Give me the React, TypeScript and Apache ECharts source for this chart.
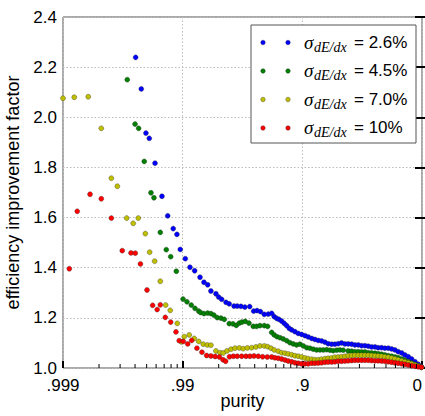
import React, { useEffect, useRef } from 'react';
import * as echarts from 'echarts';

// x values are log10(1 - purity); y values are the efficiency improvement factor
const xTickLabels: Record<string, string> = { '-3': '.999', '-2': '.99', '-1': '.9', '0': '0' };
const minorDecades = [-3, -2, -1];
const minorMultipliers = [2, 3, 4, 5, 6, 7, 8, 9];

const seriesNames = ['2.6%', '4.5%', '7.0%', '10%'];
const seriesColors = ['#0000ff', '#008000', '#bfbf00', '#ff0000'];

const blue: [number, number][] = [
  [-2.393, 2.239], [-2.346, 2.113], [-2.307, 1.937], [-2.279, 1.916], [-2.231, 1.817],
  [-2.173, 1.685], [-2.125, 1.607], [-2.079, 1.556], [-2.048, 1.533], [-2.020, 1.473],
  [-1.978, 1.436], [-1.939, 1.402], [-1.900, 1.388], [-1.855, 1.362], [-1.822, 1.342],
  [-1.791, 1.332], [-1.764, 1.307], [-1.722, 1.296], [-1.699, 1.283], [-1.674, 1.274],
  [-1.638, 1.262], [-1.611, 1.256], [-1.571, 1.247], [-1.544, 1.247], [-1.513, 1.246],
  [-1.480, 1.243], [-1.440, 1.245], [-1.407, 1.227], [-1.379, 1.229], [-1.350, 1.225],
  [-1.318, 1.214], [-1.285, 1.215], [-1.256, 1.218], [-1.235, 1.205], [-1.215, 1.198],
  [-1.195, 1.194], [-1.173, 1.187], [-1.151, 1.178], [-1.131, 1.169], [-1.109, 1.158],
  [-1.089, 1.152], [-1.062, 1.145], [-1.034, 1.138], [-1.006, 1.134], [-0.978, 1.129],
  [-0.951, 1.124], [-0.922, 1.118], [-0.895, 1.114], [-0.867, 1.110], [-0.839, 1.108],
  [-0.811, 1.103], [-0.784, 1.097], [-0.755, 1.095], [-0.728, 1.095], [-0.700, 1.097],
  [-0.672, 1.100], [-0.644, 1.096], [-0.617, 1.096], [-0.588, 1.095], [-0.561, 1.092],
  [-0.533, 1.092], [-0.505, 1.089], [-0.477, 1.089], [-0.449, 1.087], [-0.421, 1.084],
  [-0.393, 1.084], [-0.366, 1.081], [-0.338, 1.081], [-0.310, 1.079], [-0.282, 1.079],
  [-0.254, 1.076], [-0.226, 1.072], [-0.199, 1.065], [-0.170, 1.060], [-0.143, 1.052],
  [-0.115, 1.045], [-0.087, 1.036], [-0.059, 1.025], [-0.032, 1.015], [-0.005, 1.005],
];

const green: [number, number][] = [
  [-2.463, 2.150], [-2.398, 1.973], [-2.368, 1.956], [-2.321, 1.824], [-2.265, 1.699],
  [-2.240, 1.679], [-2.187, 1.541], [-2.137, 1.472], [-2.100, 1.444], [-2.053, 1.386],
  [-1.997, 1.275], [-1.964, 1.264], [-1.928, 1.251], [-1.897, 1.238], [-1.866, 1.227],
  [-1.850, 1.221], [-1.822, 1.217], [-1.791, 1.219], [-1.764, 1.217], [-1.739, 1.211],
  [-1.711, 1.201], [-1.680, 1.199], [-1.652, 1.194], [-1.611, 1.177], [-1.580, 1.176],
  [-1.552, 1.170], [-1.527, 1.179], [-1.505, 1.183], [-1.477, 1.186], [-1.446, 1.179],
  [-1.410, 1.166], [-1.383, 1.166], [-1.354, 1.169], [-1.318, 1.169], [-1.290, 1.166],
  [-1.256, 1.142], [-1.235, 1.132], [-1.212, 1.125], [-1.187, 1.121], [-1.160, 1.116],
  [-1.131, 1.109], [-1.104, 1.101], [-1.076, 1.096], [-1.048, 1.092], [-1.020, 1.095],
  [-0.992, 1.088], [-0.964, 1.081], [-0.937, 1.079], [-0.909, 1.075], [-0.881, 1.072],
  [-0.853, 1.072], [-0.825, 1.072], [-0.797, 1.073], [-0.769, 1.071], [-0.742, 1.069],
  [-0.713, 1.071], [-0.686, 1.072], [-0.658, 1.071], [-0.617, 1.068], [-0.588, 1.067],
  [-0.561, 1.065], [-0.533, 1.065], [-0.505, 1.064], [-0.477, 1.064], [-0.449, 1.061],
  [-0.421, 1.060], [-0.393, 1.059], [-0.366, 1.057], [-0.338, 1.055], [-0.310, 1.052],
  [-0.282, 1.049], [-0.254, 1.047], [-0.226, 1.044], [-0.199, 1.041], [-0.170, 1.036],
  [-0.143, 1.031], [-0.115, 1.025], [-0.087, 1.020], [-0.059, 1.015], [-0.032, 1.009],
  [-0.005, 1.003],
];

const yellow: [number, number][] = [
  [-3.000, 2.076], [-2.906, 2.080], [-2.789, 2.082], [-2.680, 1.956], [-2.596, 1.757],
  [-2.546, 1.725], [-2.468, 1.598], [-2.413, 1.577], [-2.371, 1.598], [-2.312, 1.536],
  [-2.276, 1.462], [-2.234, 1.426], [-2.187, 1.346], [-2.142, 1.251], [-2.104, 1.230],
  [-2.045, 1.178], [-2.010, 1.104], [-1.987, 1.125], [-1.945, 1.132], [-1.903, 1.118],
  [-1.866, 1.106], [-1.828, 1.095], [-1.794, 1.092], [-1.764, 1.091], [-1.722, 1.068],
  [-1.688, 1.061], [-1.661, 1.060], [-1.630, 1.068], [-1.596, 1.075], [-1.563, 1.079],
  [-1.527, 1.080], [-1.494, 1.077], [-1.460, 1.080], [-1.424, 1.081], [-1.388, 1.084],
  [-1.354, 1.088], [-1.318, 1.088], [-1.290, 1.085], [-1.262, 1.079], [-1.235, 1.072],
  [-1.201, 1.067], [-1.173, 1.061], [-1.145, 1.059], [-1.118, 1.056], [-1.089, 1.053],
  [-1.062, 1.049], [-1.034, 1.047], [-1.006, 1.044], [-0.978, 1.040], [-0.951, 1.037],
  [-0.922, 1.035], [-0.895, 1.033], [-0.867, 1.033], [-0.839, 1.035], [-0.811, 1.037],
  [-0.784, 1.039], [-0.755, 1.040], [-0.728, 1.043], [-0.700, 1.044], [-0.672, 1.045],
  [-0.644, 1.047], [-0.617, 1.049], [-0.588, 1.050], [-0.561, 1.051], [-0.533, 1.051],
  [-0.505, 1.051], [-0.477, 1.051], [-0.449, 1.051], [-0.421, 1.050], [-0.393, 1.049],
  [-0.366, 1.048], [-0.338, 1.047], [-0.310, 1.045], [-0.282, 1.043], [-0.254, 1.040],
  [-0.226, 1.037], [-0.199, 1.033], [-0.170, 1.029], [-0.143, 1.025], [-0.115, 1.021],
  [-0.087, 1.017], [-0.059, 1.012], [-0.032, 1.008], [-0.005, 1.003],
];

const red: [number, number][] = [
  [-2.947, 1.396], [-2.881, 1.625], [-2.774, 1.693], [-2.680, 1.675], [-2.596, 1.598],
  [-2.505, 1.468], [-2.432, 1.459], [-2.396, 1.458], [-2.353, 1.415], [-2.298, 1.311],
  [-2.251, 1.250], [-2.213, 1.233], [-2.187, 1.252], [-2.145, 1.202], [-2.100, 1.183],
  [-2.056, 1.144], [-2.029, 1.109], [-1.995, 1.106], [-1.958, 1.096], [-1.925, 1.110],
  [-1.881, 1.079], [-1.839, 1.063], [-1.800, 1.050], [-1.764, 1.048], [-1.728, 1.046],
  [-1.693, 1.044], [-1.663, 1.033], [-1.641, 1.027], [-1.609, 1.045], [-1.577, 1.047],
  [-1.544, 1.047], [-1.507, 1.047], [-1.471, 1.047], [-1.438, 1.047], [-1.404, 1.048],
  [-1.368, 1.047], [-1.332, 1.045], [-1.293, 1.044], [-1.256, 1.044], [-1.229, 1.041],
  [-1.201, 1.039], [-1.173, 1.036], [-1.145, 1.032], [-1.118, 1.028], [-1.089, 1.025],
  [-1.062, 1.021], [-1.034, 1.019], [-1.006, 1.017], [-0.978, 1.017], [-0.951, 1.017],
  [-0.922, 1.019], [-0.895, 1.019], [-0.867, 1.020], [-0.839, 1.021], [-0.811, 1.023],
  [-0.784, 1.024], [-0.755, 1.024], [-0.728, 1.025], [-0.700, 1.027], [-0.672, 1.027],
  [-0.644, 1.028], [-0.617, 1.029], [-0.588, 1.030], [-0.561, 1.031], [-0.533, 1.031],
  [-0.505, 1.031], [-0.477, 1.031], [-0.449, 1.031], [-0.421, 1.030], [-0.393, 1.029],
  [-0.366, 1.029], [-0.338, 1.028], [-0.310, 1.027], [-0.282, 1.025], [-0.254, 1.023],
  [-0.226, 1.021], [-0.199, 1.019], [-0.170, 1.017], [-0.143, 1.015], [-0.115, 1.012],
  [-0.087, 1.009], [-0.059, 1.007], [-0.032, 1.005], [-0.005, 1.003],
];

const allSeries = [blue, green, yellow, red];

const SANS = 'Liberation Sans, Arial, sans-serif';
const SERIF = 'Liberation Serif, Times New Roman, serif';

export default function App() {
  const ref = useRef<HTMLDivElement>(null);

  useEffect(() => {
    if (!ref.current) return;
    const chart = echarts.init(ref.current, undefined, { renderer: 'svg' });

    const minorTicks: number[][] = [];
    minorDecades.forEach((d) => minorMultipliers.forEach((k) => minorTicks.push([d + Math.log10(k), 1.0])));

    const tickStyle = { color: '#000', width: 2 };
    const gridLine = { show: true, lineStyle: { color: '#bdbdbd', width: 1, type: [1.5, 2] } };

    // legend drawn as graphic
    const legendEls: any[] = [
      {
        type: 'rect',
        shape: { x: 251, y: 25, width: 165, height: 118 },
        style: { fill: '#fff', stroke: '#555', lineWidth: 1 },
        z: 100,
      },
    ];
    const rowY = [42, 70.5, 99, 127.5];
    seriesNames.forEach((name, i) => {
      const y = rowY[i];
      [263, 288].forEach((cx) =>
        legendEls.push({
          type: 'circle',
          shape: { cx, cy: y + 0.5, r: 2.3 },
          style: { fill: seriesColors[i], stroke: 'rgba(40,40,40,0.7)', lineWidth: 0.5 },
          z: 101,
        })
      );
      legendEls.push({
        type: 'text',
        x: 304,
        y,
        style: { text: 'σ', font: `italic 19px ${SERIF}`, fill: '#000', textVerticalAlign: 'middle', textAlign: 'left' },
        z: 101,
      });
      legendEls.push({
        type: 'text',
        x: 314,
        y: y + 5,
        style: { text: 'dE/dx', font: `italic 14px ${SERIF}`, fill: '#000', textVerticalAlign: 'middle', textAlign: 'left' },
        z: 101,
      });
      legendEls.push({
        type: 'text',
        x: 354,
        y,
        style: { text: '= ' + name, font: `17px ${SANS}`, fill: '#000', textVerticalAlign: 'middle', textAlign: 'left' },
        z: 101,
      });
    });

    const option: any = {
      animation: false,
      backgroundColor: '#fff',
      grid: {
        left: 63,
        right: 3,
        top: 17,
        bottom: 48,
        outerBoundsMode: 'none',
        containLabel: false,
        show: true,
        borderColor: '#555',
        borderWidth: 1,
        backgroundColor: 'transparent',
      },
      xAxis: [
        {
          type: 'value',
          min: -3,
          max: 0,
          interval: 1,
          position: 'bottom',
          axisLine: { show: false },
          axisTick: { show: true, inside: true, length: 7, lineStyle: tickStyle },
          axisLabel: {
            formatter: (v: number) => xTickLabels[String(Math.round(v))] ?? '',
            fontSize: 17,
            color: '#000',
            margin: 9,
            fontFamily: SANS,
            hideOverlap: false,
            alignMaxLabel: 'right',
          },
          splitLine: gridLine,
          name: 'purity',
          nameLocation: 'middle',
          nameGap: 24,
          nameMoveOverlap: false,
          nameTextStyle: { fontSize: 18, color: '#000', fontFamily: SANS, verticalAlign: 'top' },
        },
      ],
      yAxis: [
        {
          type: 'value',
          min: 1.0,
          max: 2.4,
          interval: 0.2,
          position: 'left',
          axisLine: { show: false },
          axisTick: { show: true, inside: true, length: 7, lineStyle: tickStyle },
          axisLabel: {
            formatter: (v: number) => v.toFixed(1),
            fontSize: 17,
            color: '#000',
            margin: 6,
            fontFamily: SANS,
          },
          splitLine: gridLine,
          name: 'efficiency improvement factor',
          nameLocation: 'middle',
          nameRotate: 90,
          nameGap: 38,
          nameTextStyle: { fontSize: 18, color: '#000', fontFamily: SANS },
        },
        {
          type: 'value',
          min: 1.0,
          max: 2.4,
          interval: 0.2,
          position: 'right',
          axisLine: { show: false },
          axisTick: { show: true, inside: true, length: 7, lineStyle: tickStyle },
          axisLabel: { show: false },
          splitLine: { show: false },
        },
      ],
      series: [
        ...allSeries.map((data, i) => ({
          type: 'scatter',
          name: seriesNames[i],
          data,
          symbol: 'circle',
          symbolSize: 5,
          itemStyle: { color: seriesColors[i], borderColor: 'rgba(40,40,40,0.7)', borderWidth: 0.5, opacity: 1 },
          xAxisIndex: 0,
          yAxisIndex: 0,
          z: 2 + i,
          silent: true,
        })),
        {
          type: 'custom',
          xAxisIndex: 0,
          yAxisIndex: 0,
          data: minorTicks,
          silent: true,
          clip: false,
          z: 10,
          renderItem: (_p: any, api: any) => {
            const pt = api.coord([api.value(0), api.value(1)]);
            return {
              type: 'line',
              shape: { x1: pt[0], y1: pt[1], x2: pt[0], y2: pt[1] - 4 },
              style: { stroke: '#000', lineWidth: 1 },
            };
          },
        },
      ],
      graphic: legendEls,
    };

    chart.setOption(option);
    return () => chart.dispose();
  }, []);

  return <div ref={ref} style={{ position: 'fixed', left: 0, top: 0, width: 425, height: 416 }} />;
}
